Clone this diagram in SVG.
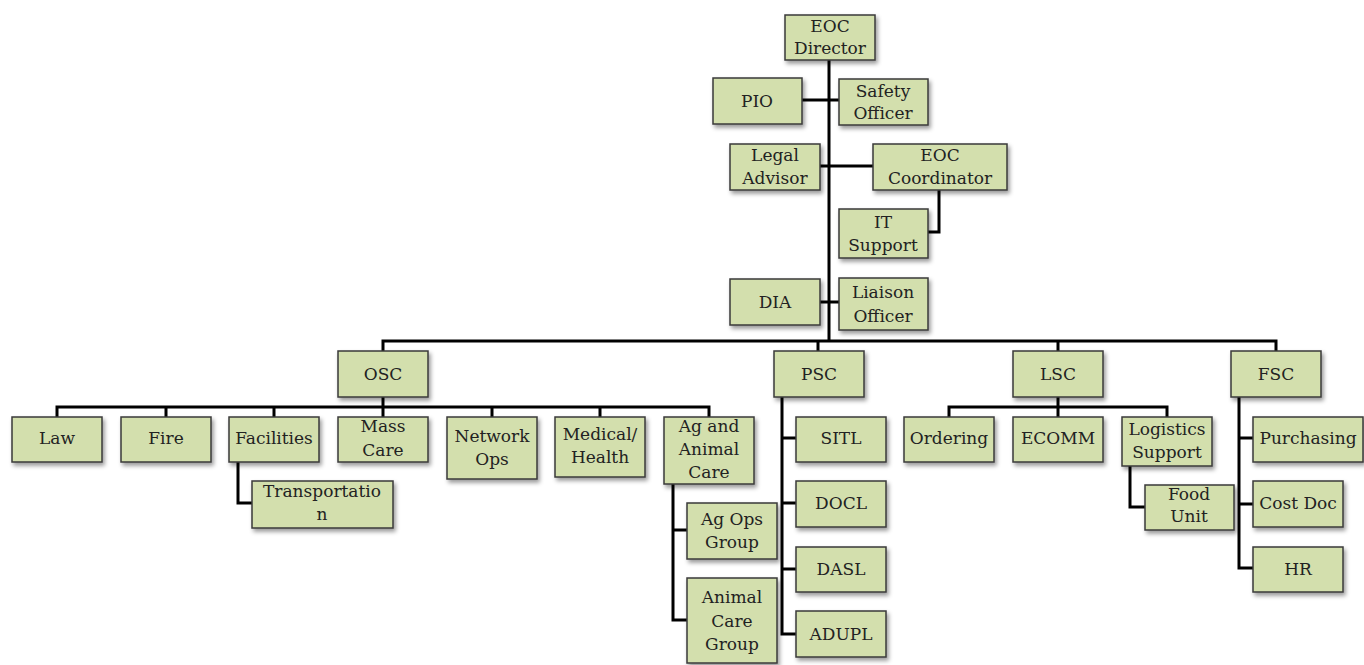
<svg xmlns="http://www.w3.org/2000/svg" width="1364" height="665" viewBox="0 0 1364 665">
  <defs>
    <filter id="shadow" x="-20%" y="-20%" width="140%" height="150%">
      <feDropShadow dx="2" dy="3" stdDeviation="2" flood-color="#000" flood-opacity="0.4"/>
    </filter>
  </defs>
  <style>
    .box { fill: #d3dfad; stroke: #3a3a3a; stroke-width: 1.5; filter: url(#shadow); }
    .lbl { font-family: "DejaVu Serif", "Liberation Serif", serif; font-size: 17px; fill: #222; text-anchor: middle; }
    .wire { fill: none; stroke: #000; stroke-width: 3; stroke-linejoin: miter; }
  </style>
  <rect width="1364" height="665" fill="#fff"/>

  <!-- connectors -->
  <g id="connectors" class="wire">
    <path d="M829 60 V341"/>
    <path d="M802 100 H839"/>
    <path d="M820 166 H873"/>
    <path d="M939 190 V232 H928"/>
    <path d="M820 302 H839"/>
    <path d="M383 351 V341 H1276 V351"/>
    <path d="M818 341 V351"/>
    <path d="M1058 341 V351"/>
    <!-- operations -->
    <path d="M383 397 V407"/>
    <path d="M57 417 V407 H709 V417"/>
    <path d="M166 407 V417 M274 407 V417 M383 407 V417 M492 407 V417 M600 407 V417"/>
    <path d="M238 462 V503 H252"/>
    <path d="M673 484 V620 H687 M673 530 H687"/>
    <!-- planning -->
    <path d="M782 397 V634 H796 M782 438 H796 M782 503 H796 M782 569 H796"/>
    <!-- logistics -->
    <path d="M1058 397 V417"/>
    <path d="M949 417 V407 H1167 V417"/>
    <path d="M1130 466 V507 H1145"/>
    <!-- finance -->
    <path d="M1239 397 V568 H1253 M1239 438 H1253 M1239 504 H1253"/>
  </g>

  <!-- command staff -->
  <g id="eoc-director"><rect class="box" x="785" y="15" width="90" height="45"/><text class="lbl" x="830" y="32">EOC</text><text class="lbl" x="830" y="54">Director</text></g>
  <g id="pio"><rect class="box" x="713" y="78" width="89" height="46"/><text class="lbl" x="757" y="107">PIO</text></g>
  <g id="safety-officer"><rect class="box" x="839" y="79" width="89" height="46"/><text class="lbl" x="883" y="97">Safety</text><text class="lbl" x="883" y="119">Officer</text></g>
  <g id="legal-advisor"><rect class="box" x="730" y="144" width="90" height="46"/><text class="lbl" x="775" y="161">Legal</text><text class="lbl" x="775" y="184">Advisor</text></g>
  <g id="eoc-coordinator"><rect class="box" x="873" y="144" width="134" height="46"/><text class="lbl" x="940" y="161">EOC</text><text class="lbl" x="940" y="184">Coordinator</text></g>
  <g id="it-support"><rect class="box" x="839" y="209" width="89" height="49"/><text class="lbl" x="883" y="228">IT</text><text class="lbl" x="883" y="251">Support</text></g>
  <g id="dia"><rect class="box" x="730" y="279" width="90" height="46"/><text class="lbl" x="775" y="308">DIA</text></g>
  <g id="liaison-officer"><rect class="box" x="839" y="278" width="89" height="52"/><text class="lbl" x="883" y="298">Liaison</text><text class="lbl" x="883" y="322">Officer</text></g>

  <!-- section chiefs -->
  <g id="osc"><rect class="box" x="338" y="351" width="90" height="46"/><text class="lbl" x="383" y="380">OSC</text></g>
  <g id="psc"><rect class="box" x="774" y="351" width="90" height="46"/><text class="lbl" x="819" y="380">PSC</text></g>
  <g id="lsc"><rect class="box" x="1013" y="351" width="90" height="46"/><text class="lbl" x="1058" y="380">LSC</text></g>
  <g id="fsc"><rect class="box" x="1231" y="351" width="90" height="46"/><text class="lbl" x="1276" y="380">FSC</text></g>

  <!-- operations branches -->
  <g id="law"><rect class="box" x="12" y="417" width="90" height="45"/><text class="lbl" x="57" y="444">Law</text></g>
  <g id="fire"><rect class="box" x="121" y="417" width="90" height="45"/><text class="lbl" x="166" y="444">Fire</text></g>
  <g id="facilities"><rect class="box" x="229" y="417" width="90" height="45"/><text class="lbl" x="274" y="444">Facilities</text></g>
  <g id="transportation"><rect class="box" x="252" y="481" width="141" height="47"/><text class="lbl" x="322" y="497">Transportatio</text><text class="lbl" x="322" y="520">n</text></g>
  <g id="mass-care"><rect class="box" x="338" y="417" width="90" height="45"/><text class="lbl" x="383" y="432">Mass</text><text class="lbl" x="383" y="456">Care</text></g>
  <g id="network-ops"><rect class="box" x="447" y="417" width="90" height="62"/><text class="lbl" x="492" y="442">Network</text><text class="lbl" x="492" y="465">Ops</text></g>
  <g id="medical-health"><rect class="box" x="555" y="417" width="90" height="60"/><text class="lbl" x="600" y="440">Medical/</text><text class="lbl" x="600" y="463">Health</text></g>
  <g id="ag-animal-care"><rect class="box" x="664" y="417" width="90" height="67"/><text class="lbl" x="709" y="432">Ag and</text><text class="lbl" x="709" y="455">Animal</text><text class="lbl" x="709" y="478">Care</text></g>
  <g id="ag-ops-group"><rect class="box" x="687" y="503" width="90" height="56"/><text class="lbl" x="732" y="525">Ag Ops</text><text class="lbl" x="732" y="548">Group</text></g>
  <g id="animal-care-group"><rect class="box" x="687" y="578" width="90" height="85"/><text class="lbl" x="732" y="603">Animal</text><text class="lbl" x="732" y="627">Care</text><text class="lbl" x="732" y="650">Group</text></g>

  <!-- planning units -->
  <g id="sitl"><rect class="box" x="796" y="417" width="90" height="45"/><text class="lbl" x="841" y="444">SITL</text></g>
  <g id="docl"><rect class="box" x="796" y="481" width="90" height="46"/><text class="lbl" x="841" y="509">DOCL</text></g>
  <g id="dasl"><rect class="box" x="796" y="547" width="90" height="45"/><text class="lbl" x="841" y="575">DASL</text></g>
  <g id="adupl"><rect class="box" x="796" y="611" width="90" height="46"/><text class="lbl" x="841" y="640">ADUPL</text></g>

  <!-- logistics units -->
  <g id="ordering"><rect class="box" x="904" y="417" width="90" height="45"/><text class="lbl" x="949" y="444">Ordering</text></g>
  <g id="ecomm"><rect class="box" x="1013" y="417" width="90" height="45"/><text class="lbl" x="1058" y="444">ECOMM</text></g>
  <g id="logistics-support"><rect class="box" x="1122" y="417" width="90" height="49"/><text class="lbl" x="1167" y="435">Logistics</text><text class="lbl" x="1167" y="458">Support</text></g>
  <g id="food-unit"><rect class="box" x="1145" y="485" width="89" height="45"/><text class="lbl" x="1189" y="500">Food</text><text class="lbl" x="1189" y="522">Unit</text></g>

  <!-- finance units -->
  <g id="purchasing"><rect class="box" x="1253" y="417" width="110" height="45"/><text class="lbl" x="1308" y="444">Purchasing</text></g>
  <g id="cost-doc"><rect class="box" x="1253" y="481" width="90" height="46"/><text class="lbl" x="1298" y="509">Cost Doc</text></g>
  <g id="hr"><rect class="box" x="1253" y="547" width="90" height="45"/><text class="lbl" x="1298" y="575">HR</text></g>
</svg>
